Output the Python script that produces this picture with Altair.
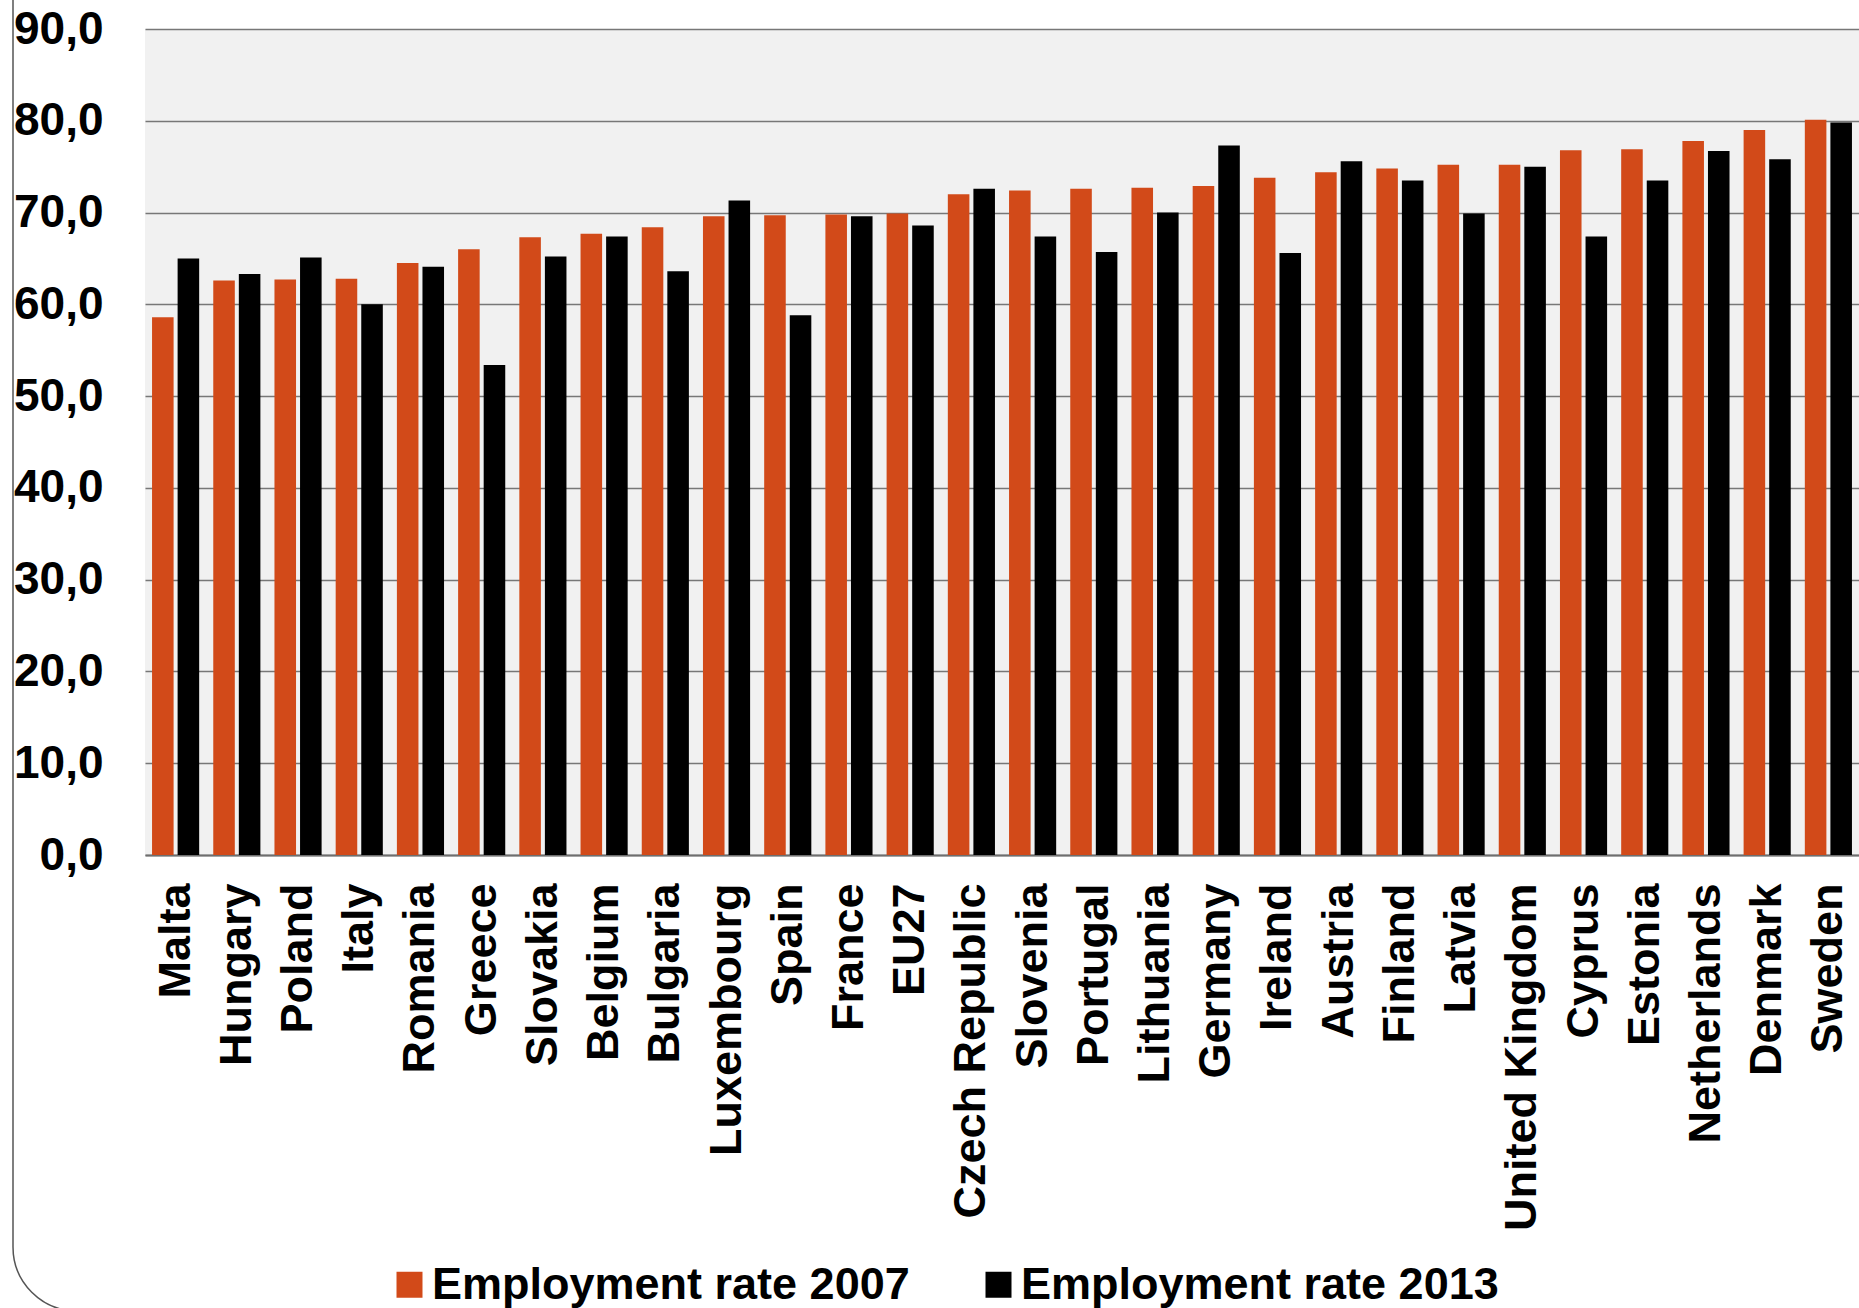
import altair as alt
import pandas as pd

countries = ["Malta", "Hungary", "Poland", "Italy", "Romania", "Greece", "Slovakia",
             "Belgium", "Bulgaria", "Luxembourg", "Spain", "France", "EU27",
             "Czech Republic", "Slovenia", "Portugal", "Lithuania", "Germany",
             "Ireland", "Austria", "Finland", "Latvia", "United Kingdom", "Cyprus",
             "Estonia", "Netherlands", "Denmark", "Sweden"]
rate_2007 = [58.6, 62.6, 62.7, 62.8, 64.5, 66.0, 67.3, 67.7, 68.4, 69.6, 69.7, 69.8, 69.9,
             72.0, 72.4, 72.6, 72.7, 72.9, 73.8, 74.4, 74.8, 75.2, 75.2, 76.8, 76.9,
             77.8, 79.0, 80.1]
rate_2013 = [65.0, 63.3, 65.1, 60.0, 64.1, 53.4, 65.2, 67.4, 63.6, 71.3, 58.8, 69.6, 68.6,
             72.6, 67.4, 65.7, 70.0, 77.3, 65.6, 75.6, 73.5, 69.9, 75.0, 67.4, 73.5,
             76.7, 75.8, 79.8]
series_names = ["Employment rate 2007", "Employment rate 2013"]
series_colors = ["#D24A19", "#000000"]
y_ticks = [0, 10, 20, 30, 40, 50, 60, 70, 80, 90]

rows = []
for c, a, b in zip(countries, rate_2007, rate_2013):
    rows.append({"country": c, "series": series_names[0], "value": a})
    rows.append({"country": c, "series": series_names[1], "value": b})
df = pd.DataFrame(rows)

FONT = "Liberation Sans"

bars = alt.Chart(df).mark_bar().encode(
    x=alt.X("country:N", sort=countries,
            scale=alt.Scale(paddingInner=0.23, paddingOuter=0.115),
            axis=alt.Axis(title=None, labelAngle=-90, labelFontSize=45, labelFont=FONT,
                          labelFontWeight="bold", labelPadding=28, ticks=False,
                          domainColor="#6e6e6e", domainWidth=2, labelColor="black",
                          labelLimit=600)),
    xOffset=alt.XOffset("series:N", sort=series_names,
                        scale=alt.Scale(paddingInner=0.157)),
    y=alt.Y("value:Q", scale=alt.Scale(domain=[0, 90], nice=False),
            axis=alt.Axis(title=None, values=y_ticks,
                          labelExpr="replace(format(datum.value, '.1f'), '.', ',')",
                          labelFontSize=46, labelFont=FONT, labelFontWeight="bold",
                          labelPadding=42, ticks=False, domain=False,
                          gridColor="#777777", gridWidth=1.5, labelColor="black")),
    color=alt.Color("series:N",
                    scale=alt.Scale(domain=series_names, range=series_colors),
                    legend=alt.Legend(title=None, orient="none", legendX=242, legendY=1233,
                                      direction="horizontal", symbolType="square",
                                      symbolSize=676, symbolStrokeWidth=0,
                                      labelFontSize=45, labelFont=FONT,
                                      labelFontWeight="bold", labelColor="black",
                                      labelOffset=0, columnPadding=66, padding=0,
                                      labelLimit=700)),
)

frame = alt.Chart(pd.DataFrame({"k": [0]})).mark_rect(
    fill="transparent", stroke="#555555", strokeWidth=1.5, cornerRadius=64
).encode(
    x=alt.value(-132), x2=alt.value(2000), y=alt.value(-100), y2=alt.value(1282)
)

chart = alt.layer(bars, frame).properties(
    width=1714, height=826,
    autosize="none",
    padding={"left": 145, "top": 29, "right": 0, "bottom": 453},
    background="white",
).configure_view(fill="#F1F1F1", stroke=None)

chart.save("out.html", embed_options={"renderer": "svg", "actions": False})
